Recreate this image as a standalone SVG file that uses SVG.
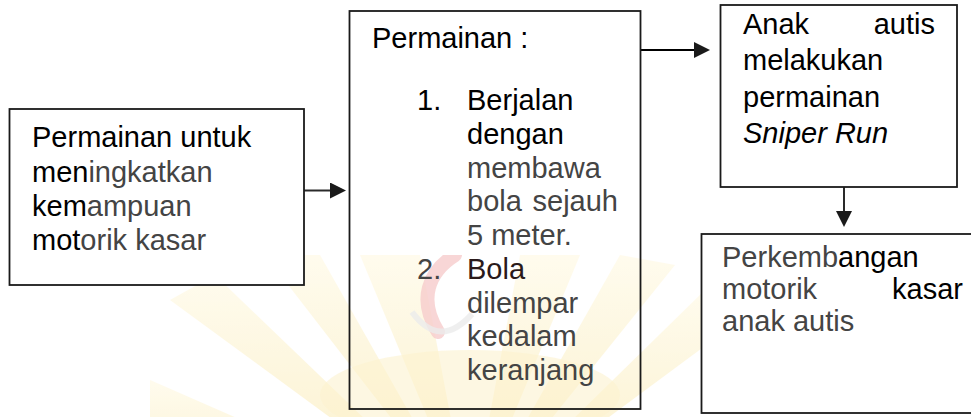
<svg xmlns="http://www.w3.org/2000/svg" width="971" height="417" viewBox="0 0 971 417">
  <style>
    .box { fill: none; stroke: #1a1a1a; stroke-width: 1.8; }
    .solid { fill: #fff; }
    .t { font-family: "Liberation Sans", Arial, sans-serif; font-size: 29px; fill: #000; }
    .g { fill: #444; }
    .it { font-style: italic; }
    .conn { stroke: #2a2a2a; stroke-width: 2; fill: none; }
  </style>
  <defs>
    <marker id="arrow" markerUnits="userSpaceOnUse" markerWidth="16" markerHeight="16" refX="0" refY="8" orient="auto">
      <path d="M0,0 L16,8 L0,16 z" fill="#1a1a1a"/>
    </marker>
    <clipPath id="wmclip"><rect x="150" y="255" width="600" height="162"/></clipPath>
    <linearGradient id="wmgrad" x1="0" y1="0" x2="0" y2="1">
      <stop offset="0" stop-color="#fff9e0"/>
      <stop offset="1" stop-color="#f9e39a"/>
    </linearGradient>
  </defs>

  <rect x="0" y="0" width="971" height="417" fill="#ffffff"/>

  <g id="watermark" clip-path="url(#wmclip)" opacity="0.55">
    <polygon points="470,520 150,380 150,430" fill="url(#wmgrad)"/>
    <polygon points="470,520 170,300 215,275" fill="url(#wmgrad)"/>
    <polygon points="470,520 265,255 320,255" fill="url(#wmgrad)"/>
    <polygon points="470,520 360,255 420,255" fill="url(#wmgrad)"/>
    <polygon points="470,520 520,255 580,255" fill="url(#wmgrad)"/>
    <polygon points="470,520 620,255 675,265" fill="url(#wmgrad)"/>
    <polygon points="470,520 705,290 740,320" fill="url(#wmgrad)"/>
    <ellipse cx="470" cy="395" rx="150" ry="45" fill="#fbeaa8" opacity="0.6"/>
    <path d="M455,255 C428,272 418,300 438,332" stroke="#f0a3a3" stroke-width="14" fill="none" stroke-linecap="round" opacity="0.8"/>
    <path d="M412,312 Q440,350 472,314" stroke="#dcdcdc" stroke-width="6" fill="none" opacity="0.8"/>
  </g>

  <g id="connectors">
    <line class="conn" x1="304" y1="190.5" x2="330" y2="190.5" marker-end="url(#arrow)"/>
    <line class="conn" x1="640" y1="50" x2="694" y2="50" marker-end="url(#arrow)" style="stroke:#000"/>
    <line class="conn" x1="844" y1="187" x2="844" y2="211" marker-end="url(#arrow)"/>
  </g>

  <g id="node-permainan-untuk">
    <rect class="box solid" x="9.5" y="109" width="294.5" height="176"/>
    <text class="t" x="32" y="147">Permainan untuk</text>
    <text class="t" x="32" y="181.5">men<tspan class="g">ingkatkan</tspan></text>
    <text class="t" x="32" y="215.5">kem<tspan class="g">ampuan</tspan></text>
    <text class="t" x="32" y="250">mot<tspan class="g">orik kasar</tspan></text>
  </g>

  <g id="node-permainan">
    <rect class="box" x="349.5" y="11" width="291" height="398"/>
    <text class="t" x="372" y="48">Permainan :</text>
    <text class="t" x="417" y="110">1.</text>
    <text class="t" x="467" y="110">Berjalan</text>
    <text class="t" x="467" y="143.8">dengan</text>
    <text class="t g" x="467" y="177.5">membawa</text>
    <text class="t g" x="467" y="211.3">bola</text>
    <text class="t g" x="618" y="211.3" text-anchor="end">sejauh</text>
    <text class="t g" x="467" y="245">5 meter.</text>
    <text class="t g" x="417" y="278.8">2.</text>
    <text class="t" x="467" y="278.8" style="fill:#2a1a1a">Bola</text>
    <text class="t g" x="467" y="312.5">dilempar</text>
    <text class="t g" x="467" y="346.3">kedalam</text>
    <text class="t g" x="467" y="380">keranjang</text>
  </g>

  <g id="node-anak-autis">
    <rect class="box solid" x="720.5" y="5" width="236.5" height="182"/>
    <text class="t" x="743" y="34">Anak</text>
    <text class="t" x="935" y="34" text-anchor="end">autis</text>
    <text class="t" x="743" y="70">melakukan</text>
    <text class="t" x="743" y="107">permainan</text>
    <text class="t it" x="743" y="143">Sniper Run</text>
  </g>

  <g id="node-perkembangan">
    <rect class="box solid" x="701.5" y="234" width="280" height="179"/>
    <text class="t" x="722" y="267"><tspan class="g">Perkemb</tspan>angan</text>
    <text class="t g" x="722" y="299">motorik</text>
    <text class="t" x="963" y="299" text-anchor="end">kasar</text>
    <text class="t g" x="722" y="331">anak autis</text>
  </g>
</svg>
